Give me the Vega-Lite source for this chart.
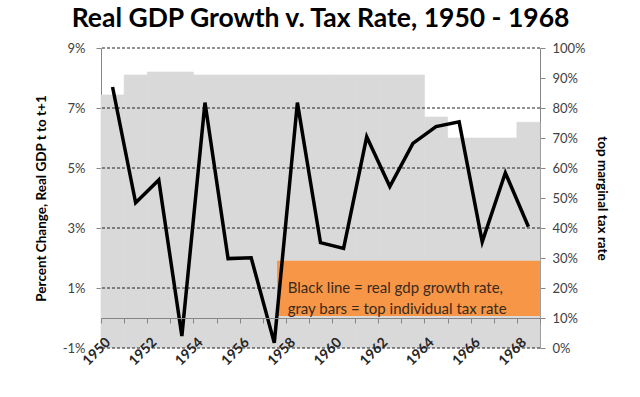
{
  "$schema": "https://vega.github.io/schema/vega-lite/v6.json",
  "width": 439,
  "height": 300,
  "autosize": "none",
  "padding": {"left": 101, "top": 48, "right": 100, "bottom": 49},
  "background": "white",
  "config": {"view": {"stroke": null}, "font": "Lato"},
  "title": {"text": "Real GDP Growth v. Tax Rate, 1950 - 1968", "font": "Lato", "fontSize": 26.5, "fontWeight": "bold", "color": "#000000", "anchor": "middle", "offset": 10},
  "datasets": {
    "series": [
      {"year": 1950, "gdp": 7.7, "tax": 84.36},
      {"year": 1951, "gdp": 3.84, "tax": 91},
      {"year": 1952, "gdp": 4.6, "tax": 92},
      {"year": 1953, "gdp": -0.6, "tax": 92},
      {"year": 1954, "gdp": 7.18, "tax": 91},
      {"year": 1955, "gdp": 1.98, "tax": 91},
      {"year": 1956, "gdp": 2.01, "tax": 91},
      {"year": 1957, "gdp": -0.83, "tax": 91},
      {"year": 1958, "gdp": 7.18, "tax": 91},
      {"year": 1959, "gdp": 2.51, "tax": 91},
      {"year": 1960, "gdp": 2.32, "tax": 91},
      {"year": 1961, "gdp": 6.04, "tax": 91},
      {"year": 1962, "gdp": 4.38, "tax": 91},
      {"year": 1963, "gdp": 5.82, "tax": 91},
      {"year": 1964, "gdp": 6.38, "tax": 77},
      {"year": 1965, "gdp": 6.54, "tax": 70},
      {"year": 1966, "gdp": 2.54, "tax": 70},
      {"year": 1967, "gdp": 4.84, "tax": 70},
      {"year": 1968, "gdp": 3.04, "tax": 75.25}
    ],
    "grid": [{"tax": 0}, {"tax": 20}, {"tax": 40}, {"tax": 60}, {"tax": 80}, {"tax": 100}],
    "note": [{"year": 1957, "year_end": 1968, "lo": 10.7, "hi": 29.1}],
    "notetext": [{"year": 1958, "tax": 20, "label": "Black line = real gdp growth rate,\ngray bars = top individual tax rate"}]
  },
  "layer": [
    {
      "layer": [
        {
          "data": {"name": "series"},
          "mark": {"type": "bar", "color": "#D9D9D9", "stroke": "#D9D9D9", "strokeWidth": 0.6},
          "encoding": {
            "x": {"field": "year", "type": "ordinal", "scale": {"paddingInner": 0, "paddingOuter": 0},
              "axis": {"orient": "bottom", "title": "", "values": [1950, 1952, 1954, 1956, 1958, 1960, 1962, 1964, 1966, 1968], "labelAngle": -45, "labelAlign": "right", "labelBaseline": "top", "labelOffset": -9, "domain": false, "ticks": false, "labelPadding": -13, "labelFontWeight": "bold", "labelFontSize": 14, "labelColor": "#262626", "labelFont": "Lato", "grid": false, "zindex": 2, "labelOverlap": false}},
            "y": {"field": "tax", "type": "quantitative", "scale": {"domain": [0, 100], "nice": false},
              "axis": {"orient": "right", "title": "top marginal tax rate", "values": [0, 10, 20, 30, 40, 50, 60, 70, 80, 90, 100], "labelExpr": "datum.value + '%'", "labelOverlap": false, "grid": false, "domainColor": "#868686", "tickColor": "#868686", "tickSize": 5, "labelPadding": 7, "labelFontSize": 13, "labelColor": "#404040", "titleFontSize": 13.5, "titleFontWeight": "bold", "titleColor": "#000000", "titlePadding": 9}}
          }
        },
        {
          "data": {"name": "grid"},
          "mark": {"type": "rule", "color": "#222222", "strokeWidth": 1, "strokeDash": [3, 2]},
          "encoding": {
            "y": {"field": "tax", "type": "quantitative",
              "axis": {"orient": "right", "title": "top marginal tax rate", "values": [0, 10, 20, 30, 40, 50, 60, 70, 80, 90, 100], "labelExpr": "datum.value + '%'", "labelOverlap": false, "grid": false, "domainColor": "#868686", "tickColor": "#868686", "tickSize": 5, "labelPadding": 7, "labelFontSize": 13, "labelColor": "#404040", "titleFontSize": 13.5, "titleFontWeight": "bold", "titleColor": "#000000", "titlePadding": 9}}
          }
        },
        {
          "data": {"name": "note"},
          "mark": {"type": "rect", "color": "#F79646", "opacity": 1},
          "encoding": {
            "x": {"field": "year", "type": "ordinal", "bandPosition": 0.62,
              "axis": {"orient": "bottom", "title": "", "values": [1950, 1952, 1954, 1956, 1958, 1960, 1962, 1964, 1966, 1968], "labelAngle": -45, "labelAlign": "right", "labelBaseline": "top", "labelOffset": -9, "domain": false, "ticks": false, "labelPadding": -13, "labelFontWeight": "bold", "labelFontSize": 14, "labelColor": "#262626", "labelFont": "Lato", "grid": false, "zindex": 2, "labelOverlap": false}},
            "x2": {"field": "year_end", "bandPosition": 1},
            "y": {"field": "lo", "type": "quantitative",
              "axis": {"orient": "right", "title": "top marginal tax rate", "values": [0, 10, 20, 30, 40, 50, 60, 70, 80, 90, 100], "labelExpr": "datum.value + '%'", "labelOverlap": false, "grid": false, "domainColor": "#868686", "tickColor": "#868686", "tickSize": 5, "labelPadding": 7, "labelFontSize": 13, "labelColor": "#404040", "titleFontSize": 13.5, "titleFontWeight": "bold", "titleColor": "#000000", "titlePadding": 9}},
            "y2": {"field": "hi"}
          }
        },
        {
          "data": {"name": "notetext"},
          "mark": {"type": "text", "align": "left", "baseline": "middle", "lineBreak": "\n", "lineHeight": 21, "fontSize": 15, "font": "Lato", "color": "#3A2A1C"},
          "encoding": {
            "x": {"field": "year", "type": "ordinal", "bandPosition": 0.08,
              "axis": {"orient": "bottom", "title": "", "values": [1950, 1952, 1954, 1956, 1958, 1960, 1962, 1964, 1966, 1968], "labelAngle": -45, "labelAlign": "right", "labelBaseline": "top", "labelOffset": -9, "domain": false, "ticks": false, "labelPadding": -13, "labelFontWeight": "bold", "labelFontSize": 14, "labelColor": "#262626", "labelFont": "Lato", "grid": false, "zindex": 2, "labelOverlap": false}},
            "y": {"field": "tax", "type": "quantitative",
              "axis": {"orient": "right", "title": "top marginal tax rate", "values": [0, 10, 20, 30, 40, 50, 60, 70, 80, 90, 100], "labelExpr": "datum.value + '%'", "labelOverlap": false, "grid": false, "domainColor": "#868686", "tickColor": "#868686", "tickSize": 5, "labelPadding": 7, "labelFontSize": 13, "labelColor": "#404040", "titleFontSize": 13.5, "titleFontWeight": "bold", "titleColor": "#000000", "titlePadding": 9}},
            "text": {"field": "label"}
          }
        }
      ]
    },
    {
      "data": {"name": "series"},
      "mark": {"type": "line", "color": "#000000", "strokeWidth": 3.5, "strokeJoin": "miter"},
      "encoding": {
        "x": {"field": "year", "type": "ordinal",
          "axis": {"orient": "bottom", "title": null, "labels": false, "offset": -30, "domainColor": "#868686", "tickColor": "#868686", "tickBand": "extent", "tickSize": 5, "zindex": 1}},
        "y": {"field": "gdp", "type": "quantitative", "scale": {"domain": [-1, 9], "nice": false},
          "axis": {"orient": "left", "title": "Percent Change, Real GDP t to t+1", "values": [-1, 1, 3, 5, 7, 9], "labelExpr": "datum.value + '%'", "grid": false, "domainColor": "#868686", "tickColor": "#868686", "tickSize": 5, "labelPadding": 11, "labelFontSize": 13, "labelColor": "#404040", "titleFontSize": 13.5, "titleFontWeight": "bold", "titleColor": "#000000", "titlePadding": 14}}
      }
    }
  ],
  "resolve": {"scale": {"y": "independent"}, "axis": {"x": "independent"}}
}
